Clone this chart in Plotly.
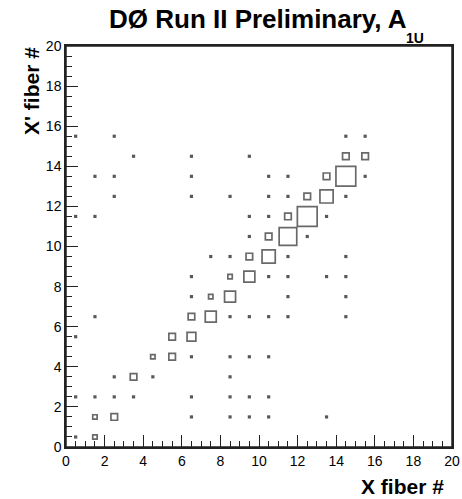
import plotly.graph_objects as go

# Bin centers (X fiber #, X' fiber #) and bin contents (box size scale)
x_fiber = [0.5, 2.5, 14.5, 15.5,
           3.5, 6.5, 9.5, 14.5, 15.5,
           1.5, 2.5, 6.5, 10.5, 11.5, 13.5, 14.5, 15.5,
           2.5, 6.5, 8.5, 10.5, 11.5, 12.5, 13.5, 14.5,
           0.5, 1.5, 9.5, 10.5, 11.5, 12.5, 13.5,
           9.5, 10.5, 11.5, 12.5,
           7.5, 8.5, 9.5, 10.5, 11.5, 14.5,
           6.5, 8.5, 9.5, 10.5, 11.5, 13.5, 14.5,
           6.5, 7.5, 8.5, 11.5, 14.5,
           1.5, 6.5, 7.5, 8.5, 9.5, 10.5, 11.5, 14.5,
           0.5, 5.5, 6.5,
           4.5, 5.5, 6.5, 8.5, 9.5, 10.5,
           2.5, 3.5, 4.5, 8.5,
           0.5, 1.5, 2.5, 3.5, 6.5, 8.5, 9.5, 10.5,
           1.5, 2.5, 6.5, 8.5, 9.5, 10.5, 13.5,
           0.5, 1.5]
xp_fiber = [15.5] * 4 + [14.5] * 5 + [13.5] * 8 + [12.5] * 8 + [11.5] * 7 + \
           [10.5] * 4 + [9.5] * 6 + [8.5] * 7 + [7.5] * 5 + [6.5] * 8 + \
           [5.5] * 3 + [4.5] * 6 + [3.5] * 4 + [2.5] * 8 + [1.5] * 7 + [0.5] * 2
counts = [1, 1, 1, 1,
          1, 1, 1, 3, 3,
          1, 1, 1, 1, 1, 3, 9, 1,
          1, 1, 1, 1, 1, 3, 6, 1,
          1, 1, 1, 1, 3, 9, 1,
          1, 3, 8, 1,
          1, 1, 3, 6, 1, 1,
          1, 2, 5, 1, 1, 1, 1,
          1, 2, 5, 1, 1,
          1, 3, 5, 1, 1, 1, 1, 1,
          1, 3, 4,
          2, 3, 1, 1, 1, 1,
          1, 3, 1, 1,
          1, 1, 1, 1, 1, 1, 1, 1,
          2, 3, 1, 1, 1, 1, 1,
          1, 2]

x_ticks = list(range(0, 21, 2))
y_ticks = list(range(0, 21, 2))

# box side grows with bin content; single-entry bins drawn as small solid dots
symbols = ["square" if c == 1 else "square-open" for c in counts]
sizes = [3.2 if c == 1 else 2.2 * c for c in counts]
line_widths = [0 if c == 1 else 1.7 for c in counts]
colors = ["#111111" if c == 1 else "#2a2a2a" for c in counts]

fig = go.Figure()
fig.add_trace(go.Scatter(
    x=x_fiber, y=xp_fiber, mode="markers",
    marker=dict(symbol=symbols, size=sizes, color=colors,
                line=dict(width=line_widths, color=colors)),
    hoverinfo="x+y"))

font_family = "Liberation Sans, Arial, Helvetica, sans-serif"
axis_common = dict(range=[0, 20], showgrid=False, zeroline=False,
                   showline=True, linecolor="#222222", linewidth=1.5, mirror=True,
                   ticks="inside", ticklen=12, tickwidth=1.2, tickcolor="#222222",
                   tickfont=dict(family=font_family, size=14, color="black"),
                   minor=dict(dtick=0.5, ticks="inside", ticklen=6,
                              tickwidth=1, tickcolor="#222222"))
fig.update_xaxes(tickvals=x_ticks, ticktext=[str(v) for v in x_ticks], **axis_common)
fig.update_yaxes(tickvals=y_ticks, ticktext=[str(v) for v in y_ticks], **axis_common)

W, H = 462, 499
L, R, T, B = 66, 10, 46, 52
PX0, PX1, PY0, PY1 = L, W - R, T, H - B

def px(xp):
    return (xp - PX0) / (PX1 - PX0)

def py(yp):
    return (PY1 - yp) / (PY1 - PY0)

fig.update_layout(
    width=W, height=H, margin=dict(l=L, r=R, t=T, b=B, autoexpand=False),
    paper_bgcolor="white", plot_bgcolor="white", showlegend=False,
    shapes=[dict(type="rect", xref="paper", yref="paper", x0=0, y0=0, x1=1, y1=1,
                 line=dict(color="#222222", width=1.5), layer="above")],
    annotations=[
        dict(text="DØ Run II Preliminary, A", xref="paper", yref="paper",
             x=px(258), y=py(19), xanchor="center", yanchor="middle", showarrow=False,
             font=dict(family=font_family, size=26, color="black", weight="bold")),
        dict(text="1U", xref="paper", yref="paper",
             x=px(404), y=py(38), xanchor="left", yanchor="middle", showarrow=False,
             font=dict(family=font_family, size=14, color="black", weight="bold")),
        dict(text="X' fiber #", xref="paper", yref="paper", textangle=-90,
             x=px(31), y=py(45), xanchor="center", yanchor="top", showarrow=False,
             font=dict(family=font_family, size=21, color="black", weight="bold")),
        dict(text="X fiber #", xref="paper", yref="paper",
             x=px(446), y=py(486), xanchor="right", yanchor="middle", showarrow=False,
             font=dict(family=font_family, size=21, color="black", weight="bold")),
    ])

fig.write_html("out.html",
               config={"displayModeBar": False},
               post_script="document.body.style.margin='0';"
                           "document.body.style.overflow='hidden';")
